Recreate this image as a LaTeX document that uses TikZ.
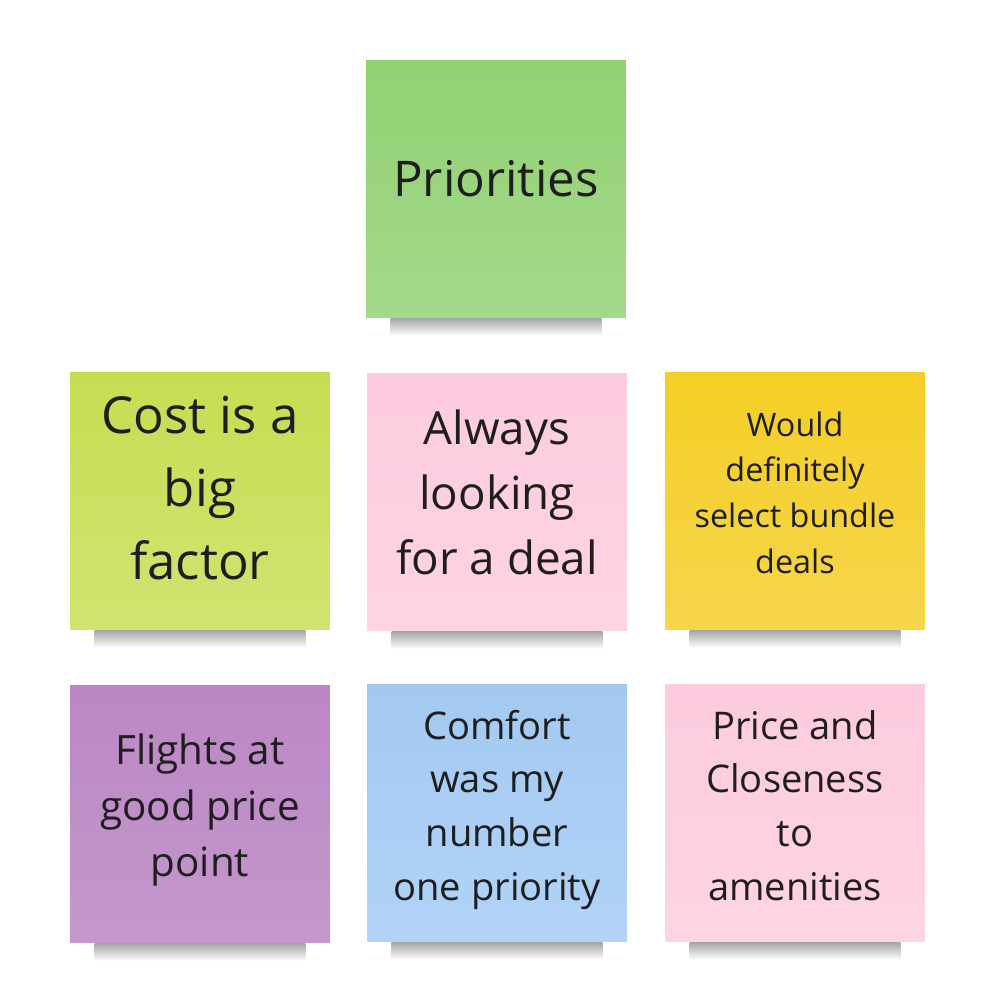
\documentclass[tikz,border=0pt]{standalone}
\usepackage{fontspec}
\setmainfont{Open Sans}
\usepackage{xcolor}
\usetikzlibrary{positioning}
\definecolor{inkdark}{HTML}{1E1E1E}
\definecolor{greentop}{HTML}{92D173}
\definecolor{greenbot}{HTML}{A3D98A}
\definecolor{limetop}{HTML}{C6DD52}
\definecolor{limebot}{HTML}{D0E470}
\definecolor{pinktop}{HTML}{FDCBDF}
\definecolor{pinkbot}{HTML}{FED4E3}
\definecolor{yellowtop}{HTML}{F4CF25}
\definecolor{yellowbot}{HTML}{F6D54A}
\definecolor{purpletop}{HTML}{BC86C5}
\definecolor{purplebot}{HTML}{C498CC}
\definecolor{bluetop}{HTML}{A3C9F1}
\definecolor{bluebot}{HTML}{B1D3F7}
\newcommand{\notelines}[2]{\raisebox{#1}[\height][\depth]{\begin{tabular}{@{}c@{}}#2\end{tabular}}}

\begin{document}
\begin{tikzpicture}[x=0.02cm,y=-0.02cm]
\tikzset{note/.style = {minimum width=5.2cm,minimum height=5.16cm,inner sep=0pt,
  text=inkdark}}
\tikzset{shadowbar/.style = {top color=black!35,bottom color=white,draw=none}}
\useasboundingbox (0,0) rectangle (991,1008);
\node[note,top color=greentop,bottom color=greenbot,font=\fontsize{28}{36}\selectfont] (prio) at (496,189)
  {\notelines{0.1cm}{Priorities}};
\node[note,top color=limetop,bottom color=limebot,font=\fontsize{29}{41.5}\selectfont] (cost) at (200,501)
  {\notelines{0.18cm}{Cost is a\\ big\\ factor}};
\node[note,top color=pinktop,bottom color=pinkbot,font=\fontsize{26}{37}\selectfont] (deal) at (497,502)
  {\notelines{0.12cm}{Always\\ looking\\ for a deal}};
\node[note,top color=yellowtop,bottom color=yellowbot,font=\fontsize{18.4}{26}\selectfont] (bundle) at (795,501)
  {\notelines{0.11cm}{Would\\ definitely\\ select bundle\\ deals}};
\node[note,top color=purpletop,bottom color=purplebot,font=\fontsize{23}{32}\selectfont] (flight) at (200,814)
  {\notelines{0.09cm}{Flights at\\ good price\\ point}};
\node[note,top color=bluetop,bottom color=bluebot,font=\fontsize{21.7}{30.6}\selectfont] (comfort) at (497,813)
  {\notelines{0.08cm}{Comfort\\ was my\\ number\\ one priority}};
\node[note,top color=pinktop,bottom color=pinkbot,font=\fontsize{21.7}{30.6}\selectfont] (price) at (795,813)
  {\notelines{0.08cm}{Price and\\ Closeness\\ to\\ amenities}};
% shadows under the notes
\foreach \n in {prio,cost,deal,bundle,flight,comfort,price}
  \shade[shadowbar] ([xshift=0.5cm]\n.south west) rectangle ([xshift=-0.5cm,yshift=-0.35cm]\n.south east);
\end{tikzpicture}
\end{document}
